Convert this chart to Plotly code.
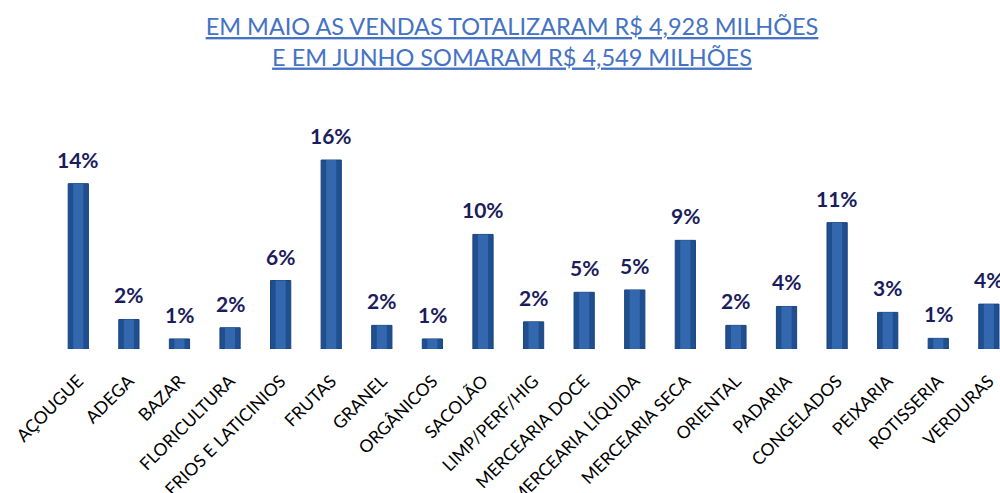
import plotly.graph_objects as go

categories = ["AÇOUGUE", "ADEGA", "BAZAR", "FLORICULTURA", "FRIOS E LATICINIOS", "FRUTAS",
              "GRANEL", "ORGÂNICOS", "SACOLÃO", "LIMP/PERF/HIG", "MERCEARIA DOCE",
              "MERCEARIA LÍQUIDA", "MERCEARIA SECA", "ORIENTAL", "PADARIA", "CONGELADOS",
              "PEIXARIA", "ROTISSERIA", "VERDURAS"]
values = [14.0, 2.5, 0.85, 1.8, 5.8, 16.0, 2.0, 0.85, 9.7, 2.3, 4.8, 5.0, 9.2, 2.0, 3.6,
          10.7, 3.1, 0.9, 3.8]
labels = ["14%", "2%", "1%", "2%", "6%", "16%", "2%", "1%", "10%", "2%", "5%", "5%", "9%",
          "2%", "4%", "11%", "3%", "1%", "4%"]

title_line1 = "EM MAIO AS VENDAS TOTALIZARAM R$ 4,928 MILHÕES"
title_line2 = "E EM JUNHO SOMARAM R$ 4,549 MILHÕES"

xs = list(range(len(categories)))

fig = go.Figure()
fig.add_trace(go.Bar(
    x=xs, y=values, width=0.4,
    marker=dict(color="#1F4F8F", line=dict(color="#1A447E", width=1)),
    hoverinfo="skip",
))
fig.add_trace(go.Bar(
    x=xs, y=values, width=0.2,
    marker=dict(color="#3368AF", line=dict(width=0)),
    hoverinfo="skip",
))

for i, (v, lab) in enumerate(zip(values, labels)):
    fig.add_annotation(x=i, y=v, text="<b>" + lab + "</b>", showarrow=False,
                       yanchor="bottom", yshift=10,
                       font=dict(family="Lato", size=21, color="#1C1C5C"))

fig.update_layout(
    width=1000, height=493,
    paper_bgcolor="white", plot_bgcolor="white",
    margin=dict(l=53, r=0, t=90, b=144, autoexpand=False),
    showlegend=False, barmode="overlay",
    title=dict(text="<u>" + title_line1 + "</u><br><u>" + title_line2 + "</u>",
               x=0.512, xanchor="center", y=0.929, yanchor="middle",
               font=dict(family="Lato", size=23.5, color="#4472C4")),
    xaxis=dict(range=[-0.5, 18.22], tickmode="array",
               tickvals=xs, ticktext=categories, automargin=False,
               tickangle=-45, showgrid=False, zeroline=False, showline=False,
               ticks="outside", ticklen=14, tickcolor="rgba(0,0,0,0)",
               tickfont=dict(family="Lato", size=17.5, color="#000000")),
    yaxis=dict(range=[0, 21.93], visible=False, showgrid=False, zeroline=False,
               automargin=False),
)

fig.write_html("out.html", config={"displayModeBar": False},
               post_script="document.body.style.margin='0';document.body.style.overflow='hidden';")
